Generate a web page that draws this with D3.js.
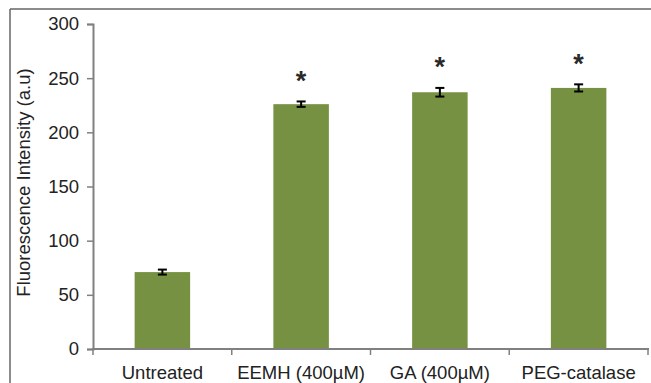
<!DOCTYPE html>
<html>
<head>
<meta charset="utf-8">
<script src="https://cdn.jsdelivr.net/npm/d3@7/dist/d3.min.js"></script>
<style>
  html, body { margin: 0; padding: 0; background: #fff; }
  svg { display: block; }
  text { font-family: "Liberation Sans", Arial, sans-serif; }
</style>
</head>
<body>
<script>
// Fluorescence intensity per treatment (mean ± error)
const categories = ["Untreated", "EEMH (400\u00b5M)", "GA (400\u00b5M)", "PEG-catalase"];
const values = [71, 226, 237, 241];
const errors = [2.3, 2.5, 4, 3.3];
const significant = [false, true, true, true];
const yTicks = [0, 50, 100, 150, 200, 250, 300];

const W = 651, H = 383;
const margin = { left: 93, right: 3, top: 24, bottom: 34 };
const FS = 18.5;

const svg = d3.select("body").append("svg").attr("width", W).attr("height", H);

// outer frame (top and left edges visible)
svg.append("line").attr("x1", 10).attr("x2", W).attr("y1", 9).attr("y2", 9)
  .attr("stroke", "#666").attr("stroke-width", 1.5);
svg.append("line").attr("x1", 10).attr("x2", 10).attr("y1", 9).attr("y2", H)
  .attr("stroke", "#666").attr("stroke-width", 1.5);

const x = d3.scaleBand().domain(categories)
  .range([margin.left, 648]).paddingInner(0.6).paddingOuter(0.3);
const y = d3.scaleLinear().domain([0, 300]).range([349, 24]);

// bars
svg.selectAll("rect.bar").data(values).join("rect")
  .attr("class", "bar")
  .attr("x", (d, i) => x(categories[i]))
  .attr("width", x.bandwidth())
  .attr("y", d => y(d))
  .attr("height", d => y(0) - y(d))
  .attr("fill", "#779143");

// error bars
const eb = svg.append("g").attr("stroke", "#000").attr("stroke-width", 2);
values.forEach((v, i) => {
  const cx = x(categories[i]) + x.bandwidth() / 2;
  const lo = y(v - errors[i]), hi = y(v + errors[i]);
  eb.append("line").attr("x1", cx).attr("x2", cx).attr("y1", lo).attr("y2", hi);
  eb.append("line").attr("x1", cx - 4.5).attr("x2", cx + 4.5).attr("y1", lo).attr("y2", lo);
  eb.append("line").attr("x1", cx - 4.5).attr("x2", cx + 4.5).attr("y1", hi).attr("y2", hi);
});

// significance marks
values.forEach((v, i) => {
  if (!significant[i]) return;
  const cx = x(categories[i]) + x.bandwidth() / 2;
  svg.append("text").attr("x", cx).attr("y", y(v + errors[i]) - 11.5)
    .attr("text-anchor", "middle").attr("font-size", 27).attr("font-weight", "bold")
    .attr("fill", "#2a2a2a").text("*");
});

// y axis
const yAxis = svg.append("g").attr("transform", `translate(${margin.left},0)`)
  .call(d3.axisLeft(y).tickValues(yTicks).tickSize(6).tickPadding(8));
yAxis.select(".domain").attr("stroke", "#808080").attr("stroke-width", 2);
yAxis.selectAll(".tick line").attr("stroke", "#808080").attr("stroke-width", 1.5);
yAxis.selectAll(".tick text").attr("font-size", FS).attr("fill", "#222")
  .attr("font-family", "Liberation Sans, Arial, sans-serif");

// x axis with boundary ticks between categories
const xAxisG = svg.append("g");
xAxisG.append("line").attr("x1", margin.left - 1).attr("x2", 649)
  .attr("y1", y(0)).attr("y2", y(0)).attr("stroke", "#808080").attr("stroke-width", 2);
const step = x.step();
const bounds = categories.map(c => x(c) - (step - x.bandwidth()) / 2).concat([648]);
xAxisG.selectAll("line.b").data(bounds).join("line").attr("class", "b")
  .attr("x1", d => d).attr("x2", d => d)
  .attr("y1", y(0)).attr("y2", y(0) + 6)
  .attr("stroke", "#808080").attr("stroke-width", 1.5);
xAxisG.selectAll("text").data(categories).join("text")
  .attr("x", d => x(d) + x.bandwidth() / 2).attr("y", 379)
  .attr("text-anchor", "middle").attr("font-size", FS).attr("fill", "#222")
  .text(d => d);

// y axis title
svg.append("text")
  .attr("transform", `translate(30,${(24 + 349) / 2 - 4}) rotate(-90)`)
  .attr("text-anchor", "middle").attr("font-size", FS).attr("fill", "#222")
  .text("Fluorescence Intensity (a.u)");
</script>
</body>
</html>
